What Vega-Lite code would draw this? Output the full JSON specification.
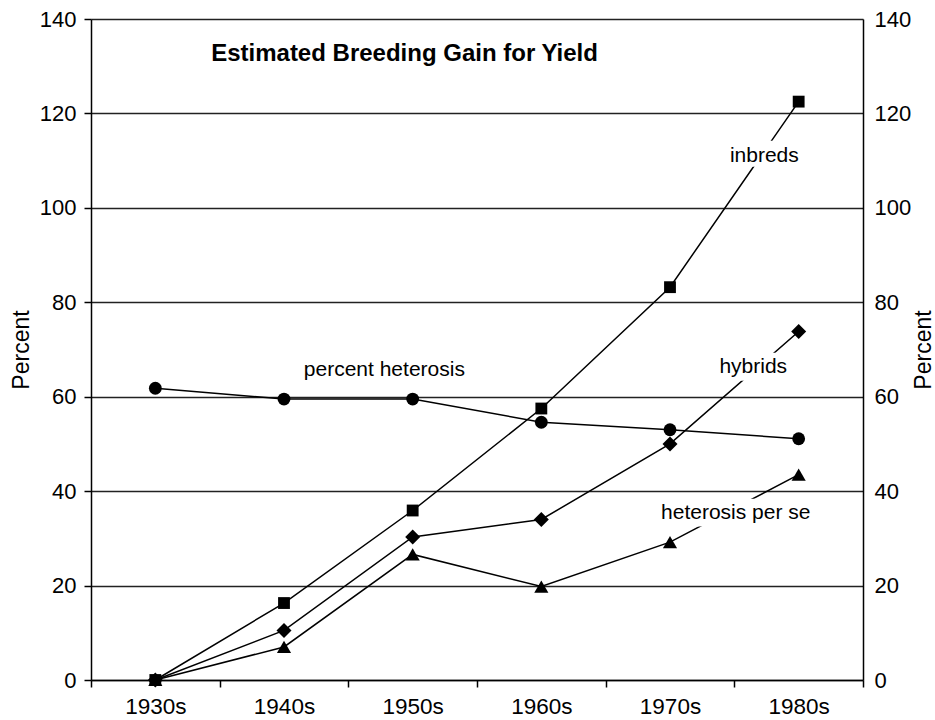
{
  "$schema": "https://vega.github.io/schema/vega-lite/v6.json",
  "width": 772,
  "height": 661,
  "autosize": "none",
  "padding": {"left": 91, "top": 19, "right": 72, "bottom": 40},
  "background": "white",
  "config": {
    "view": {"stroke": null},
    "font": "Liberation Sans",
    "axis": {"labelFont": "Liberation Sans", "titleFont": "Liberation Sans", "labelColor": "black", "titleColor": "black"}
  },
  "datasets": {
    "series": [
      {"decade": "1930s", "i": 0, "series": "inbreds", "value": 0},
      {"decade": "1940s", "i": 1, "series": "inbreds", "value": 16.3},
      {"decade": "1950s", "i": 2, "series": "inbreds", "value": 35.9},
      {"decade": "1960s", "i": 3, "series": "inbreds", "value": 57.5},
      {"decade": "1970s", "i": 4, "series": "inbreds", "value": 83.2},
      {"decade": "1980s", "i": 5, "series": "inbreds", "value": 122.5},
      {"decade": "1930s", "i": 0, "series": "hybrids", "value": 0},
      {"decade": "1940s", "i": 1, "series": "hybrids", "value": 10.5},
      {"decade": "1950s", "i": 2, "series": "hybrids", "value": 30.3},
      {"decade": "1960s", "i": 3, "series": "hybrids", "value": 34.0},
      {"decade": "1970s", "i": 4, "series": "hybrids", "value": 50.0},
      {"decade": "1980s", "i": 5, "series": "hybrids", "value": 73.8},
      {"decade": "1930s", "i": 0, "series": "heterosis per se", "value": 0},
      {"decade": "1940s", "i": 1, "series": "heterosis per se", "value": 7.0},
      {"decade": "1950s", "i": 2, "series": "heterosis per se", "value": 26.6},
      {"decade": "1960s", "i": 3, "series": "heterosis per se", "value": 19.8},
      {"decade": "1970s", "i": 4, "series": "heterosis per se", "value": 29.2},
      {"decade": "1980s", "i": 5, "series": "heterosis per se", "value": 43.5},
      {"decade": "1930s", "i": 0, "series": "percent heterosis", "value": 61.8},
      {"decade": "1940s", "i": 1, "series": "percent heterosis", "value": 59.5},
      {"decade": "1950s", "i": 2, "series": "percent heterosis", "value": 59.5},
      {"decade": "1960s", "i": 3, "series": "percent heterosis", "value": 54.6},
      {"decade": "1970s", "i": 4, "series": "percent heterosis", "value": 53.0},
      {"decade": "1980s", "i": 5, "series": "percent heterosis", "value": 51.1}
    ],
    "labels": [
      {"label": "inbreds", "x": 4.733, "y": 109.8},
      {"label": "hybrids", "x": 4.647, "y": 65.0},
      {"label": "heterosis per se", "x": 4.511, "y": 34.0},
      {"label": "percent heterosis", "x": 1.78, "y": 64.3}
    ],
    "masks": [
      {"label": "inbreds", "x": 4.445, "x2": 5.03, "y": 114.2, "y2": 108.7},
      {"label": "hybrids", "x": 4.367, "x2": 4.93, "y": 69.3, "y2": 63.4},
      {"label": "heterosis per se", "x": 4.1, "x2": 5.1, "y": 38.4, "y2": 32.5}
    ],
    "heading": [
      {"text": "Estimated Breeding Gain for Yield", "x": 0.434, "y": 131.0}
    ]
  },
  "layer": [
    {
      "data": {"name": "series"},
      "mark": {"type": "line", "color": "black", "strokeWidth": 1.5},
      "encoding": {
        "x": {
          "field": "i", "type": "quantitative",
          "scale": {"domain": [-0.5, 5.5], "nice": false, "zero": false},
          "axis": {
            "orient": "bottom",
            "values": [0, 1, 2, 3, 4, 5],
            "labelExpr": "['1930s','1940s','1950s','1960s','1970s','1980s'][round(datum.value)]",
            "ticks": false,
            "grid": false,
            "title": null,
            "domainColor": "black", "domainWidth": 1.5,
            "labelFontSize": 22.5, "labelPadding": 15,
            "labelFlush": false, "labelOverlap": false, "labelBound": false
          }
        },
        "y": {
          "field": "value", "type": "quantitative",
          "scale": {"domain": [0, 140], "nice": false, "zero": true},
          "axis": {
            "orient": "left",
            "values": [0, 20, 40, 60, 80, 100, 120, 140],
            "grid": true, "gridColor": "#222", "gridWidth": 1.5,
            "domainColor": "black", "domainWidth": 1.5,
            "tickColor": "black", "tickWidth": 1.5, "tickSize": 7,
            "labelFontSize": 22, "labelPadding": 8,
            "title": "Percent", "titleFontSize": 23, "titleFontWeight": "normal", "titlePadding": 6
          }
        },
        "detail": {"field": "series"}
      }
    },
    {
      "data": {"name": "masks"},
      "mark": {"type": "rect", "color": "white"},
      "encoding": {
        "x": {
          "field": "x", "type": "quantitative",
          "axis": {
            "orient": "bottom",
            "values": [-0.5, 0.5, 1.5, 2.5, 3.5, 4.5, 5.5],
            "labels": false, "domain": false, "grid": false, "title": null,
            "ticks": true, "tickColor": "black", "tickWidth": 1.5, "tickSize": 7
          }
        },
        "x2": {"field": "x2"},
        "y": {"field": "y", "type": "quantitative", "axis": null},
        "y2": {"field": "y2"}
      }
    },
    {
      "data": {"name": "labels"},
      "mark": {"type": "text", "fontSize": 21, "align": "center", "baseline": "alphabetic", "color": "black", "font": "Liberation Sans"},
      "encoding": {
        "x": {"field": "x", "type": "quantitative", "axis": null},
        "y": {"field": "y", "type": "quantitative", "axis": null},
        "text": {"field": "label"}
      }
    },
    {
      "data": {"name": "heading"},
      "mark": {"type": "text", "fontSize": 24, "fontWeight": "bold", "align": "left", "baseline": "alphabetic", "color": "black", "font": "Liberation Sans"},
      "encoding": {
        "x": {"field": "x", "type": "quantitative", "axis": null},
        "y": {"field": "y", "type": "quantitative", "axis": null},
        "text": {"field": "text"}
      }
    },
    {
      "data": {"name": "series"},
      "mark": {"type": "point", "filled": true, "color": "black", "opacity": 1},
      "encoding": {
        "x": {"field": "i", "type": "quantitative", "axis": null},
        "y": {
          "field": "value", "type": "quantitative",
          "axis": {
            "orient": "right",
            "values": [0, 20, 40, 60, 80, 100, 120, 140],
            "grid": false, "ticks": false,
            "domainColor": "black", "domainWidth": 1.5,
            "labelFontSize": 22, "labelPadding": 11,
            "title": "Percent", "titleFontSize": 23, "titleFontWeight": "normal", "titleAngle": 270, "titlePadding": 25
          }
        },
        "shape": {
          "field": "series", "type": "nominal",
          "scale": {"domain": ["inbreds", "hybrids", "heterosis per se", "percent heterosis"], "range": ["square", "diamond", "triangle-up", "circle"]},
          "legend": null
        },
        "size": {
          "field": "series", "type": "nominal",
          "scale": {"type": "ordinal", "domain": ["inbreds", "hybrids", "heterosis per se", "percent heterosis"], "range": [140, 225, 200, 165]},
          "legend": null
        }
      }
    }
  ],
  "resolve": {"axis": {"x": "independent", "y": "independent"}}
}
